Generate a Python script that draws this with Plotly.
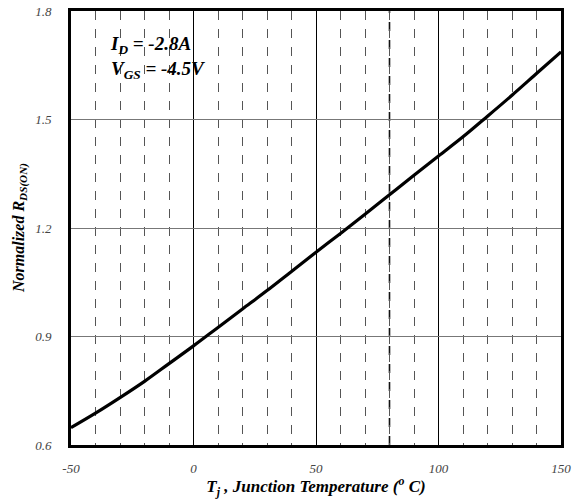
import plotly.graph_objects as go

temps = [-50, -40, -30, -20, -10, 0, 10, 20, 30, 40, 50, 60, 70, 80, 90, 100, 110, 120, 130, 140, 150]
rds_norm = [0.648, 0.688, 0.731, 0.776, 0.825, 0.874, 0.925, 0.976, 1.027, 1.080, 1.133,
            1.185, 1.238, 1.292, 1.346, 1.399, 1.452, 1.509, 1.567, 1.627, 1.687]

x_ticks = [-50, 0, 50, 100, 150]
y_ticks = [0.6, 0.9, 1.2, 1.5, 1.8]
highlight_x = 80

FONT = "Liberation Serif"

fig = go.Figure()
fig.add_trace(go.Scatter(x=temps, y=rds_norm, mode="lines",
                         line=dict(color="black", width=3.2, shape="spline"),
                         showlegend=False, hoverinfo="skip"))

fig.add_shape(type="line", xref="x", yref="paper", x0=highlight_x, x1=highlight_x, y0=0, y1=1,
              line=dict(color="#111", width=1.6, dash="dash"), layer="below")

fig.add_annotation(xref="paper", yref="paper", x=0.075, y=0.955, xanchor="left", yanchor="top",
                   text="<b><i>I<sub>D</sub> = -2.8A<br>V<sub>GS</sub> = -4.5V</i></b>",
                   showarrow=False, align="left",
                   font=dict(family=FONT, size=19, color="black"))

fig.add_annotation(xref="paper", yref="paper", x=-0.104, y=0.5, xanchor="center", yanchor="middle",
                   text="<b><i>Normalized R<sub>DS(ON)</sub></i></b>", textangle=-90,
                   showarrow=False, font=dict(family=FONT, size=16, color="black"))

fig.update_layout(
    width=580, height=499,
    margin=dict(l=71, r=19, t=11, b=54),
    paper_bgcolor="white", plot_bgcolor="white",
    xaxis=dict(range=[-50, 150], tickvals=x_ticks, ticktext=[str(v) for v in x_ticks],
               showgrid=True, gridcolor="black", gridwidth=1, automargin=False,
               minor=dict(dtick=10, tick0=0, showgrid=True, gridcolor="#555", gridwidth=1, griddash="dash"),
               showline=True, linecolor="black", linewidth=3, mirror=True,
               ticks="", ticklabelstandoff=9, zeroline=False,
               tickfont=dict(family=FONT, size=13, color="#444", style="italic"),
               title=dict(text="<b><i>T<sub>j</sub> , Junction Temperature (<sup>o</sup> C)</i></b>",
                          font=dict(family=FONT, size=17, color="black"), standoff=14)),
    yaxis=dict(range=[0.6, 1.8], tickvals=y_ticks, ticktext=[f"{v:.1f}" for v in y_ticks],
               showgrid=True, gridcolor="#777", gridwidth=1, automargin=False,
               showline=True, linecolor="black", linewidth=3, mirror=True,
               ticks="", ticklabelstandoff=14, zeroline=False,
               tickfont=dict(family=FONT, size=13, color="#444", style="italic")),
)

fig.write_html("out.html", config={"displayModeBar": False},
               post_script="document.body.style.margin='0';document.body.style.padding='0';")
